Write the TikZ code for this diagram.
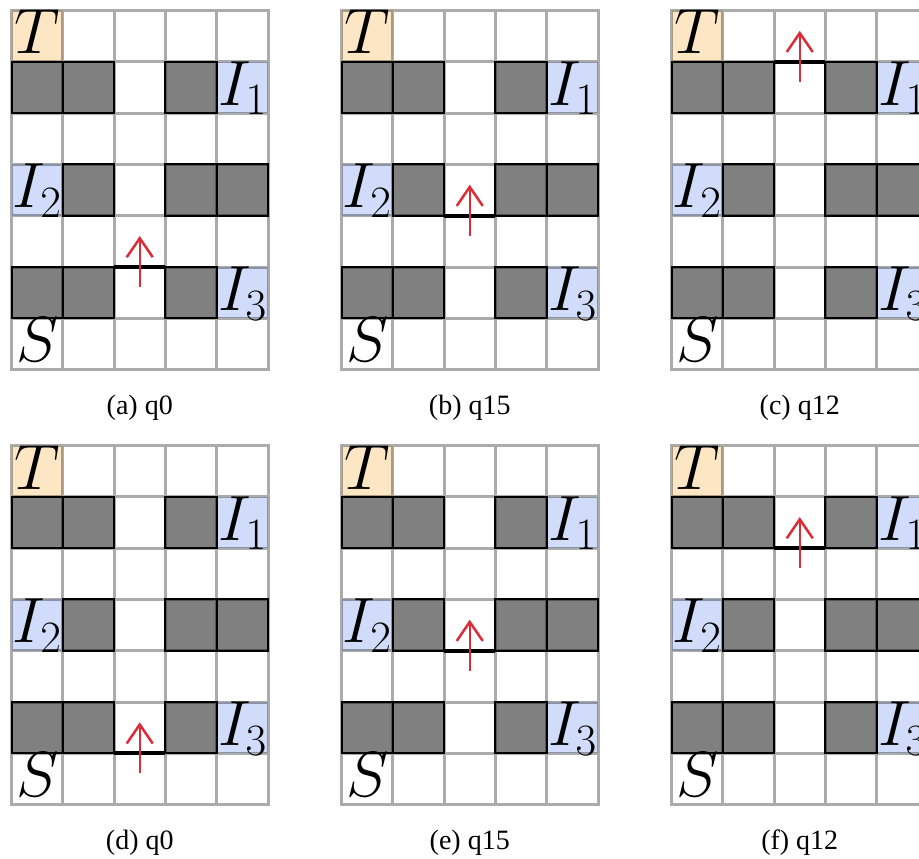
\RequirePackage{fix-cm}
\documentclass[tikz,border=0pt]{standalone}
\usepackage[no-math]{fontspec}
\newfontfamily\capfont{Liberation Serif}
\usetikzlibrary{arrows.meta}
\definecolor{targetc}{RGB}{253,230,196}
\definecolor{itemc}{RGB}{208,220,250}
\definecolor{wallc}{RGB}{128,128,128}
\definecolor{arrowc}{RGB}{218,45,55}
\tikzset{
  targetcell/.style={fill=targetc},
  itemcell/.style={fill=itemc},
  wallcell/.style={fill=wallc, draw=black, line width=2pt},
  gridline/.style={draw=black, draw opacity=0.33, line width=3pt, line cap=rect},
  barline/.style={draw=black, line width=4pt},
  agentarrow/.style={draw=arrowc, line width=2.5pt, -{Straight Barb[length=19pt,width=26pt]}},
  celllabel/.style={inner sep=0pt, anchor=base, font=\fontsize{64}{70}\selectfont},
  capstyle/.style={inner sep=0pt, anchor=base, font=\fontsize{28}{32}\capfont},
}
\def\cs{51.3}
\newcommand\gridpanel[5]{%
\begin{scope}[shift={(#1,#2)}]
  \fill[targetcell] (0,0) rectangle (\cs,\cs);
  \foreach \cx/\ry in {4/1,0/3,4/5}
    \fill[itemcell] (\cx*\cs,\ry*\cs) rectangle ++(\cs,\cs);
  \foreach \cx/\ry in {0/1,1/1,3/1,1/3,3/3,4/3,0/5,1/5,3/5}
    \path[wallcell] (\cx*\cs,\ry*\cs) rectangle ++(\cs,\cs);
  \draw[gridline]
    \foreach \i in {0,...,5}{(\i*\cs,0) -- (\i*\cs,7*\cs)}
    \foreach \j in {0,...,7}{(0,\j*\cs) -- (5*\cs,\j*\cs)};
  \node[celllabel] (#5-T) at (0.5*\cs, 43.5) {$T$};
  \node[celllabel] (#5-I1) at (4.5*\cs, \cs+43.5) {$I_1$};
  \node[celllabel] (#5-I2) at (0.5*\cs, 3*\cs+43.5) {$I_2$};
  \node[celllabel] (#5-I3) at (4.5*\cs, 5*\cs+43.5) {$I_3$};
  \node[celllabel] (#5-S) at (0.5*\cs, 6*\cs+43.5) {$S$};
  \coordinate (#5-bl) at (2*\cs,#3*\cs);
  \coordinate (#5-br) at (3*\cs,#3*\cs);
  \draw[barline] (#5-bl) -- (#5-br);
  \coordinate (#5-tail) at (2.5*\cs,#3*\cs+20);
  \coordinate (#5-head) at (2.5*\cs,#3*\cs-31);
  \draw[agentarrow] (#5-tail) -- (#5-head);
  \node[capstyle] (#5-cap) at (2.5*\cs, 7*\cs+45) {#4};
\end{scope}}
\begin{document}
\begin{tikzpicture}[x=1pt,y=-1pt]
  \path[use as bounding box, clip] (0,0) rectangle (919,859);
  \fill[white] (0,0) rectangle (919,859);
  \gridpanel{11.5}{10.5}{5}{(a) q0}{pa}
  \gridpanel{341.5}{10.5}{4}{(b) q15}{pb}
  \gridpanel{671.5}{10.5}{1}{(c) q12}{pc}
  \gridpanel{11.5}{445.5}{6}{(d) q0}{pd}
  \gridpanel{341.5}{445.5}{4}{(e) q15}{pe}
  \gridpanel{671.5}{445.5}{2}{(f) q12}{pf}
\end{tikzpicture}
\end{document}
